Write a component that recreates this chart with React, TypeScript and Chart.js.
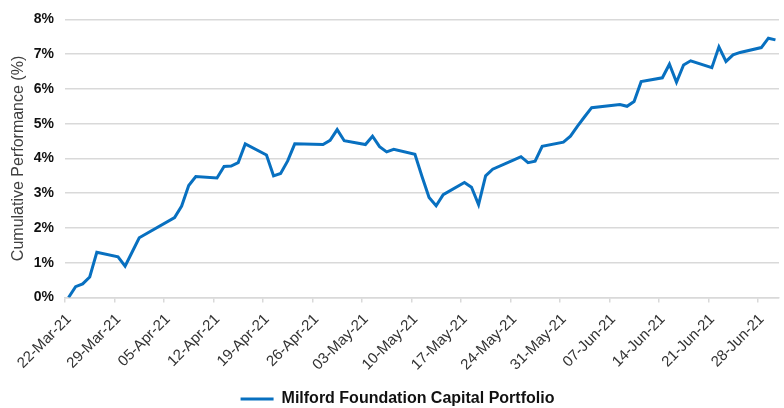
import React, { useEffect, useRef } from "react";
import { Chart, registerables } from "chart.js";

Chart.register(...registerables);

const SERIES_LABEL = "Milford Foundation Capital Portfolio";

const dates = [
  "2021-03-22", "2021-03-23", "2021-03-24", "2021-03-25", "2021-03-26",
  "2021-03-29", "2021-03-30", "2021-03-31", "2021-04-01",
  "2021-04-06", "2021-04-07", "2021-04-08", "2021-04-09",
  "2021-04-12", "2021-04-13", "2021-04-14", "2021-04-15", "2021-04-16",
  "2021-04-19", "2021-04-20", "2021-04-21", "2021-04-22", "2021-04-23",
  "2021-04-27", "2021-04-28", "2021-04-29", "2021-04-30",
  "2021-05-03", "2021-05-04", "2021-05-05", "2021-05-06", "2021-05-07",
  "2021-05-10", "2021-05-11", "2021-05-12", "2021-05-13", "2021-05-14",
  "2021-05-17", "2021-05-18", "2021-05-19", "2021-05-20", "2021-05-21",
  "2021-05-24", "2021-05-25", "2021-05-26", "2021-05-27", "2021-05-28",
  "2021-05-31", "2021-06-01", "2021-06-02", "2021-06-03", "2021-06-04",
  "2021-06-08", "2021-06-09", "2021-06-10", "2021-06-11",
  "2021-06-14", "2021-06-15", "2021-06-16", "2021-06-17", "2021-06-18",
  "2021-06-21", "2021-06-22", "2021-06-23", "2021-06-24", "2021-06-25",
  "2021-06-28", "2021-06-29", "2021-06-30",
];

const performance = [
  0.0, 0.31, 0.39, 0.59, 1.3,
  1.17, 0.9, 1.31, 1.72,
  2.3, 2.63, 3.22, 3.48,
  3.44, 3.77, 3.78, 3.88, 4.42,
  4.1, 3.5, 3.57, 3.93, 4.42,
  4.4, 4.52, 4.83, 4.51,
  4.4, 4.64, 4.34, 4.19, 4.26,
  4.12, 3.48, 2.88, 2.64, 2.96,
  3.31, 3.17, 2.67, 3.5, 3.69,
  3.96, 4.05, 3.88, 3.92, 4.35,
  4.47, 4.64, 4.93, 5.2, 5.46,
  5.55, 5.5, 5.64, 6.21,
  6.32, 6.71, 6.19, 6.69, 6.81,
  6.61, 7.21, 6.79, 6.98, 7.05,
  7.19, 7.46, 7.41,
];

const xTickLabels = [
  "22-Mar-21", "29-Mar-21", "05-Apr-21", "12-Apr-21", "19-Apr-21",
  "26-Apr-21", "03-May-21", "10-May-21", "17-May-21", "24-May-21",
  "31-May-21", "07-Jun-21", "14-Jun-21", "21-Jun-21", "28-Jun-21",
];

const yTickValues = [0, 1, 2, 3, 4, 5, 6, 7, 8];

const START = Date.UTC(2021, 2, 22);
const DAY = 86400000;
const dayIndex = (iso: string) => {
  const [y, m, d] = iso.split("-").map(Number);
  return Math.round((Date.UTC(y, m - 1, d) - START) / DAY);
};

export default function App() {
  const ref = useRef<HTMLCanvasElement | null>(null);

  useEffect(() => {
    document.body.style.margin = "0";
    if (!ref.current) return;
    const FONT = "'Liberation Sans', Arial, sans-serif";
    const lastDay = dayIndex(dates[dates.length - 1]);
    const chart = new Chart(ref.current, {
      type: "line",
      data: {
        datasets: [
          {
            label: SERIES_LABEL,
            data: dates.map((d, i) => ({ x: dayIndex(d), y: performance[i] })),
            borderColor: "#0870c0",
            backgroundColor: "#0870c0",
            borderWidth: 3,
            pointRadius: 0,
            tension: 0,
          },
        ],
      },
      options: {
        animation: false,
        responsive: true,
        maintainAspectRatio: false,
        layout: { padding: { top: 17, right: 5, left: 16, bottom: -9 } },
        plugins: {
          tooltip: { enabled: false },
          legend: {
            position: "bottom",
            labels: {
              usePointStyle: true,
              pointStyle: "line",
              pointStyleWidth: 33,
              font: { family: FONT, size: 16, weight: "bold" },
              color: "#111",
              padding: 0,
            },
          },
        },
        scales: {
          x: {
            type: "linear",
            min: -0.5,
            max: lastDay + 0.5,
            afterBuildTicks: (s: any) => {
              s.ticks = xTickLabels.map((_, i) => ({ value: i * 7 - 0.5 }));
            },
            afterFit: (s: any) => {
              s.height = 93.5;
            },
            ticks: {
              autoSkip: false,
              minRotation: 45,
              maxRotation: 45,
              padding: 8,
              labelOffset: 4,
              color: "#333",
              font: { family: FONT, size: 15 },
              callback: (_v: any, i: number) => xTickLabels[i],
            },
            grid: {
              drawOnChartArea: false,
              drawTicks: true,
              tickLength: 5,
              color: "#d9d9d9",
              lineWidth: 1.5,
            },
            border: { display: true, color: "#d9d9d9", width: 1.5 },
          },
          y: {
            min: 0,
            max: 8,
            afterBuildTicks: (s: any) => {
              s.ticks = yTickValues.map((v) => ({ value: v }));
            },
            afterFit: (s: any) => {
              s.width = 49;
            },
            ticks: {
              padding: 11,
              color: "#111",
              font: { family: FONT, size: 14, weight: "bold" },
              callback: (v: any) => v + "%",
            },
            grid: { color: "#d9d9d9", lineWidth: 1.5, drawTicks: false },
            border: { display: false },
            title: {
              display: true,
              text: "Cumulative Performance (%)",
              color: "#404040",
              font: { family: FONT, size: 16 },
              padding: { top: -7, bottom: 0 },
            },
          },
        },
      },
    });
    return () => chart.destroy();
  }, []);

  return (
    <div style={{ width: 784, height: 408, position: "relative" }}>
      <canvas ref={ref} />
    </div>
  );
}
